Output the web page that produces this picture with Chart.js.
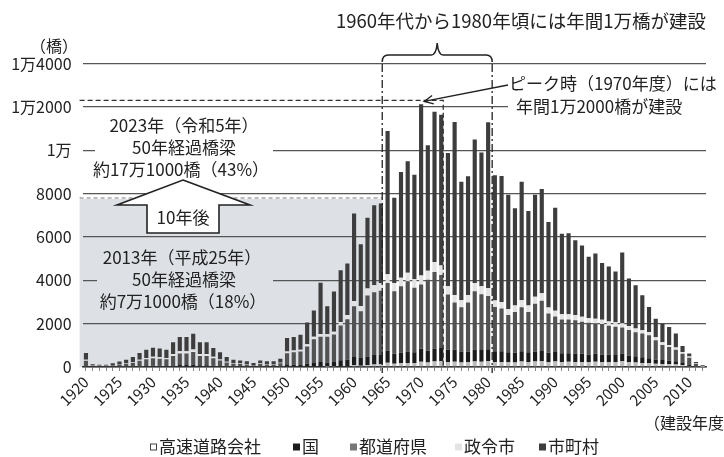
<!DOCTYPE html>
<html lang="ja">
<head>
<meta charset="utf-8">
<title>建設年度別橋梁数</title>
<script src="https://cdn.jsdelivr.net/npm/chart.js@4.4.1/dist/chart.umd.min.js"></script>
<style>
  html, body { margin: 0; padding: 0; background: #fff; }
  #wrap { width: 724px; height: 457px; }
</style>
</head>
<body>
<div id="wrap"><canvas id="chart" width="724" height="457"></canvas></div>
<script>
const FONT = '"Noto Sans CJK JP", "Noto Sans", sans-serif';

// ---------- data ----------
const years = [
  1920,1921,1922,1923,1924,1925,1926,1927,1928,1929,
  1930,1931,1932,1933,1934,1935,1936,1937,1938,1939,
  1940,1941,1942,1943,1944,1945,1946,1947,1948,1949,
  1950,1951,1952,1953,1954,1955,1956,1957,1958,1959,
  1960,1961,1962,1963,1964,1965,1966,1967,1968,1969,
  1970,1971,1972,1973,1974,1975,1976,1977,1978,1979,
  1980,1981,1982,1983,1984,1985,1986,1987,1988,1989,
  1990,1991,1992,1993,1994,1995,1996,1997,1998,1999,
  2000,2001,2002,2003,2004,2005,2006,2007,2008,2009,
  2010,2011,2012
];

const expressway = [
  0,0,0,0,0,0,0,0,0,0,
  0,0,0,0,0,0,0,0,0,0,
  0,0,0,0,0,0,0,0,0,0,
  0,0,0,0,0,0,10,20,30,40,
  80,60,90,120,130,200,150,170,190,180,
  240,210,250,260,230,240,210,220,250,240,
  260,230,230,220,210,250,230,250,260,230,
  250,230,240,230,230,220,240,230,230,220,
  260,220,210,190,170,150,140,130,120,80,
  50,20,5
];

const national = [
  40,10,10,10,10,20,20,30,40,50,
  60,60,50,70,90,90,100,80,80,60,
  50,30,30,20,20,10,20,20,20,30,
  90,100,110,150,180,230,200,230,280,300,
  380,350,400,430,450,560,460,500,520,500,
  600,540,600,620,560,560,500,500,560,540,
  560,500,500,460,450,480,450,470,480,430,
  440,400,400,390,380,360,370,350,340,330,
  360,310,290,260,230,200,180,170,150,100,
  70,30,10
];

const prefecture = [
  250,50,35,35,65,90,125,170,250,310,
  340,320,310,440,530,530,590,430,430,340,
  250,180,120,115,95,70,115,95,95,140,
  550,580,610,800,1100,1170,1180,1250,1610,1860,
  2340,2160,2810,2900,2940,3120,2890,3050,3240,2970,
  2960,3270,3530,3360,2560,2180,2050,2260,2690,2580,
  2460,2040,1970,1720,1880,2030,1860,2200,2320,1810,
  1640,1560,1550,1540,1480,1460,1400,1400,1330,1310,
  1200,1180,1100,1090,1060,880,700,620,530,430,
  310,90,25
];

const designatedCity = [
  50,10,10,10,15,20,25,35,50,60,
  70,65,60,90,110,110,120,90,90,70,
  50,35,25,25,20,15,25,20,20,30,
  80,80,80,100,120,120,120,130,160,200,
  240,240,320,320,340,400,380,400,400,400,
  420,420,460,440,380,340,320,340,380,360,
  360,300,300,280,300,320,300,320,340,280,
  260,240,240,240,230,220,220,200,200,200,
  200,180,180,160,160,140,120,100,100,80,
  60,20,10
];

const municipality = [
  310,60,45,45,80,120,160,225,310,380,
  420,405,380,540,650,650,720,540,540,410,
  330,215,165,140,125,85,140,125,125,180,
  620,620,690,1000,1210,2370,1290,1850,2380,2370,
  4040,2850,3260,3690,3680,6610,3930,4880,5140,4820,
  7900,5790,6930,6960,6140,7980,5460,5480,6610,6180,
  7650,5770,5810,5270,4480,5460,4360,4710,4810,3940,
  4760,3720,3740,3450,3290,2820,3000,2620,2540,2350,
  3260,2190,1990,1610,1150,860,860,830,640,280,
  130,70,30
];

const seriesNames = ['高速道路会社', '国', '都道府県', '政令市', '市町村'];
const seriesColors = ['#bdbdbd', '#1c1c1c', '#525252', '#e3e3e3', '#3d3d3d'];
const yTickLabels = ['0', '2000', '4000', '6000', '8000', '1万', '1万2000', '1万4000'];

// ---------- decorations ----------
const SHADE = '#dde1e6';

function yearX(chart, yr) {
  return chart.scales.x.getPixelForValue(yr - years[0]);
}

const decor = {
  id: 'decor',
  beforeDraw(chart) {
    const { ctx, chartArea: ca, scales: { y } } = chart;
    const right = yearX(chart, 1964.2);
    const top = y.getPixelForValue(7750);
    ctx.save();
    ctx.fillStyle = SHADE;
    ctx.fillRect(ca.left - 3, top, right - ca.left + 3, ca.bottom - top);
    ctx.restore();
  },
  afterDatasetsDraw(chart) {
    const { ctx, chartArea: ca, scales: { y } } = chart;
    ctx.save();

    // dashed top of the 2013 shading
    const shadeRight = yearX(chart, 1964.2);
    const shadeTop = y.getPixelForValue(7750);
    ctx.strokeStyle = '#777';
    ctx.lineWidth = 1;
    ctx.setLineDash([4, 3]);
    ctx.beginPath();
    ctx.moveTo(ca.left - 3, shadeTop - 1);
    ctx.lineTo(shadeRight, shadeTop - 1);
    ctx.stroke();

    // dashed box for 2023
    const boxRight = yearX(chart, 1973.3);
    const boxTop = y.getPixelForValue(12300);
    ctx.strokeStyle = '#333';
    ctx.lineWidth = 1.3;
    ctx.setLineDash([5, 3]);
    ctx.beginPath();
    ctx.moveTo(ca.left - 3, boxTop);
    ctx.lineTo(boxRight, boxTop);
    ctx.lineTo(boxRight, ca.bottom);
    ctx.stroke();

    // dash-dot lines for 1960s-1980
    ctx.strokeStyle = '#222';
    ctx.setLineDash([8, 3, 2, 3]);
    [1964.2, 1980.6].forEach(yr => {
      const px = yearX(chart, yr);
      ctx.beginPath();
      ctx.moveTo(px, 64);
      ctx.lineTo(px, ca.bottom + 6);
      ctx.stroke();
    });
    ctx.setLineDash([]);

    // brace
    const bl = yearX(chart, 1964.2), br = yearX(chart, 1980.6), bm = (bl + br) / 2;
    ctx.lineWidth = 1.5;
    ctx.beginPath();
    ctx.moveTo(bl, 62);
    ctx.quadraticCurveTo(bl, 55, bl + 6, 55);
    ctx.lineTo(bm - 6, 55);
    ctx.quadraticCurveTo(bm - 1, 55, bm, 43);
    ctx.quadraticCurveTo(bm + 1, 55, bm + 6, 55);
    ctx.lineTo(br - 6, 55);
    ctx.quadraticCurveTo(br, 55, br, 62);
    ctx.stroke();

    ctx.fillStyle = '#222';
    ctx.textBaseline = 'middle';
    ctx.textAlign = 'left';
    ctx.font = `18.5px ${FONT}`;
    ctx.fillText('1960年代から1980年頃には年間1万橋が建設', 336, 21);

    // peak callout
    ctx.fillStyle = '#fff';
    ctx.fillRect(508, 94, 216, 24);
    ctx.fillStyle = '#222';
    ctx.font = `17px ${FONT}`;
    ctx.fillText('ピーク時（1970年度）には', 509, 84);
    ctx.fillText('年間1万2000橋が建設', 516, 107);
    const tipX = yearX(chart, 1970) + 3, tipY = y.getPixelForValue(12250);
    ctx.strokeStyle = '#222';
    ctx.lineWidth = 1.3;
    ctx.beginPath();
    ctx.moveTo(508, 85);
    ctx.lineTo(tipX, tipY);
    const ang = Math.atan2(85 - tipY, 508 - tipX);
    ctx.moveTo(tipX + 10 * Math.cos(ang + 0.45), tipY + 10 * Math.sin(ang + 0.45));
    ctx.lineTo(tipX, tipY);
    ctx.lineTo(tipX + 10 * Math.cos(ang - 0.45), tipY + 10 * Math.sin(ang - 0.45));
    ctx.stroke();

    // 2023 block
    ctx.fillStyle = '#fff';
    ctx.fillRect(95, 113, 178, 68);
    ctx.fillStyle = '#222';
    ctx.textAlign = 'center';
    ctx.font = `17px ${FONT}`;
    ctx.fillText('2023年（令和5年）', 184, 126);
    ctx.fillText('50年経過橋梁', 184, 148);
    ctx.fillText('約17万1000橋（43%）', 181, 170);

    // 10年後 arrow
    ctx.fillStyle = '#fff';
    ctx.strokeStyle = '#222';
    ctx.lineWidth = 1.6;
    ctx.beginPath();
    ctx.moveTo(183, 180);
    ctx.lineTo(250, 205);
    ctx.lineTo(219, 205);
    ctx.lineTo(219, 233);
    ctx.lineTo(147, 233);
    ctx.lineTo(147, 205);
    ctx.lineTo(117, 205);
    ctx.closePath();
    ctx.fill();
    ctx.stroke();
    ctx.fillStyle = '#222';
    ctx.fillText('10年後', 183, 218);

    // 2013 block
    ctx.fillStyle = SHADE;
    ctx.fillRect(97, 245, 176, 67);
    ctx.fillStyle = '#222';
    ctx.fillText('2013年（平成25年）', 182, 258);
    ctx.fillText('50年経過橋梁', 184, 280);
    ctx.fillText('約7万1000橋（18%）', 183, 302);

    ctx.restore();
  },
  afterDraw(chart) {
    const { ctx } = chart;
    ctx.save();
    ctx.fillStyle = '#222';
    ctx.textBaseline = 'middle';
    ctx.textAlign = 'center';
    ctx.font = `16px ${FONT}`;
    ctx.fillText('（橋）', 54, 46);
    ctx.textAlign = 'left';
    ctx.fillText('（建設年度）', 644, 423);

    // legend
    const legendX = [150, 293, 350, 455, 539];
    ctx.font = `17px ${FONT}`;
    chart.data.datasets.forEach((ds, i) => {
      const bx = legendX[i];
      if (i === 0) {
        ctx.fillStyle = '#fff';
        ctx.fillRect(bx, 443.5, 7, 7);
        ctx.strokeStyle = '#444';
        ctx.lineWidth = 1;
        ctx.strokeRect(bx + 0.5, 444, 6, 6);
      } else {
        ctx.fillStyle = i === 2 ? '#777' : ds.backgroundColor;
        ctx.fillRect(bx, 443.5, 7, 7);
      }
      ctx.fillStyle = '#222';
      ctx.fillText(ds.label, bx + 9, 447);
    });
    ctx.restore();
  }
};

// ---------- chart ----------
const datasets = [expressway, national, prefecture, designatedCity, municipality].map((vals, i) => ({
  label: seriesNames[i],
  data: vals,
  backgroundColor: seriesColors[i],
  borderWidth: 0,
  barPercentage: 0.62,
  categoryPercentage: 1.0
}));

new Chart(document.getElementById('chart'), {
  type: 'bar',
  data: { labels: years.map(String), datasets },
  options: {
    responsive: false,
    animation: false,
    devicePixelRatio: 1,
    layout: { padding: { top: 63.5, right: 18, bottom: 0, left: 0 } },
    plugins: { legend: { display: false }, tooltip: { enabled: false } },
    scales: {
      x: {
        stacked: true,
        offset: true,
        grid: { display: true, drawOnChartArea: false, offset: false, tickLength: 4, color: '#888' },
        border: { display: true, color: '#333', width: 1.5 },
        ticks: {
          autoSkip: false,
          minRotation: 45,
          maxRotation: 45,
          padding: 2,
          color: '#222',
          font: { family: FONT, size: 15 },
          callback: (v, i) => (years[i] % 5 === 0 ? String(years[i]) : '')
        },
        afterFit(scale) { scale.height = 90; }
      },
      y: {
        stacked: true,
        min: 0,
        max: 14000,
        ticks: {
          stepSize: 2000,
          padding: 11,
          color: '#222',
          font: { family: FONT, size: 16 },
          callback: v => yTickLabels[v / 2000]
        },
        grid: { color: '#555', lineWidth: 1.3, drawTicks: false },
        border: { display: false },
        afterFit(scale) { scale.width = 82.6; }
      }
    }
  },
  plugins: [decor]
});
</script>
</body>
</html>
